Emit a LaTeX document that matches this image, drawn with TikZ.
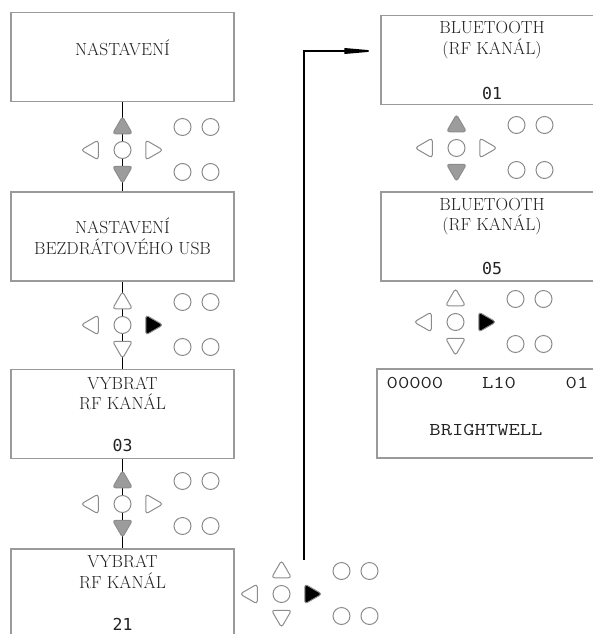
\documentclass[tikz,border=0pt]{standalone}
\usepackage{fontspec}
\usepackage{tikz}
\usetikzlibrary{arrows.meta,shapes.geometric}
\newfontfamily\lcdfont{DejaVu Sans Mono}
\newfontfamily\courfont[FakeStretch=1.22]{Latin Modern Mono}
\definecolor{framegray}{HTML}{9A9A9A}
\definecolor{keyline}{HTML}{8C8C8C}
\definecolor{keyfill}{HTML}{9C9C9C}
\definecolor{inktext}{HTML}{222222}

% one keypad: name, x, y, fill of up, fill of down, fill of right
\newcommand{\keypad}[6]{%
  \node[okkey] (#1ok) at (#2,#3) {};
  \node[arrowkey,fill=#4] (#1up) at (#2,#3-22) {};
  \node[arrowkey,fill=#5,shape border rotate=180] (#1dn) at (#2,#3+22) {};
  \node[arrowkey,shape border rotate=90] (#1lt) at (#2-30,#3) {};
  \node[arrowkey,fill=#6,shape border rotate=-90] (#1rt) at (#2+29,#3) {};
  \node[okkey] (#1a) at (#2+60,#3-23) {};
  \node[okkey] (#1b) at (#2+88,#3-23) {};
  \node[okkey] (#1c) at (#2+60,#3+22) {};
  \node[okkey] (#1d) at (#2+88,#3+22) {};
}

\begin{document}
\begin{tikzpicture}[x=1pt,y=-1pt,
  screen/.style={draw=framegray,line width=1.3pt,fill=white,
    minimum width=223pt,minimum height=89pt,inner sep=0pt},
  menu/.style={align=center,text=inktext,
    font=\fontsize{17.5}{20.5}\selectfont,inner sep=0pt},
  digits/.style={text=inktext,font=\lcdfont\fontsize{16.5}{18}\selectfont,
    inner sep=0pt},
  courier/.style={text=inktext,font=\courfont\fontsize{18}{20}\selectfont,
    inner sep=0pt},
  okkey/.style={circle,draw=keyline,line width=1pt,fill=white,
    minimum size=17pt,inner sep=0pt},
  arrowkey/.style={regular polygon,regular polygon sides=3,draw=keyline,
    line width=1pt,fill=white,minimum size=23pt,inner sep=0pt,
    rounded corners=3pt},
  link/.style={line width=1.8pt,black},
  flow/.style={-{Triangle[length=36pt,width=5.5pt]},line width=1.8pt,black}
]
\useasboundingbox (0,0) rectangle (593,634);
\clip (0,0) rectangle (593,634);

% left column
\node[screen] (set) at (122.5,57) {};
\node[screen] (usb) at (122.5,236.5) {};
\node[screen] (rf) at (122.5,414) {};
\node[screen] (rfb) at (122.5,593.5) {};
\draw[link] (set.south) -- (usb.north);
\draw[link] (usb.south) -- (rf.north);
\draw[link] (rf.south) -- (rfb.north);

\node[menu] (settxt) at (122.5,48) {NASTAVENÍ};
\node[menu] (usbtxt) at (122.5,236.5) {NASTAVENÍ\\BEZDRÁTOVÉHO USB};
\node[menu] (rftxt) at (122.5,393.5) {VYBRAT\\RF KANÁL};
\node[digits] (rfval) at (122.5,445) {03};
\node[menu] (rfbtxt) at (122.5,572) {VYBRAT\\RF KANÁL};
\node[digits] (rfbval) at (122.5,624) {21};

\keypad{ka}{122.5}{150}{keyfill}{keyfill}{white}
\keypad{kb}{122.5}{325}{white}{white}{black}
\keypad{kc}{122.5}{504}{keyfill}{keyfill}{white}
\keypad{kd}{281.5}{594}{white}{white}{black}

% right column
\node[screen] (bt) at (492.5,60) {};
\node[screen] (btb) at (492.5,236.5) {};
\node[screen] (home) at (488.5,413.5) {};

\node[menu] (bttxt) at (492,40) {BLUETOOTH\\(RF KANÁL)};
\node[digits] (btval) at (492,93) {01};
\node[menu] (btbtxt) at (492,216.5) {BLUETOOTH\\(RF KANÁL)};
\node[digits] (btbval) at (492,268) {05};
\node[courier] (count) at (415,383) {00000};
\node[courier] (level) at (499,383) {L10};
\node[courier] (chan) at (577,383) {01};
\node[courier] (brand) at (486,430) {BRIGHTWELL};

\keypad{ke}{456.5}{148}{keyfill}{keyfill}{white}
\keypad{kf}{455.5}{322}{white}{white}{black}

% jump to the bluetooth screen
\coordinate (jump) at (304,560);
\coordinate (bend) at (304,51);
\draw[flow] (jump) -- (bend) -- (bend -| bt.west);
\end{tikzpicture}
\end{document}
